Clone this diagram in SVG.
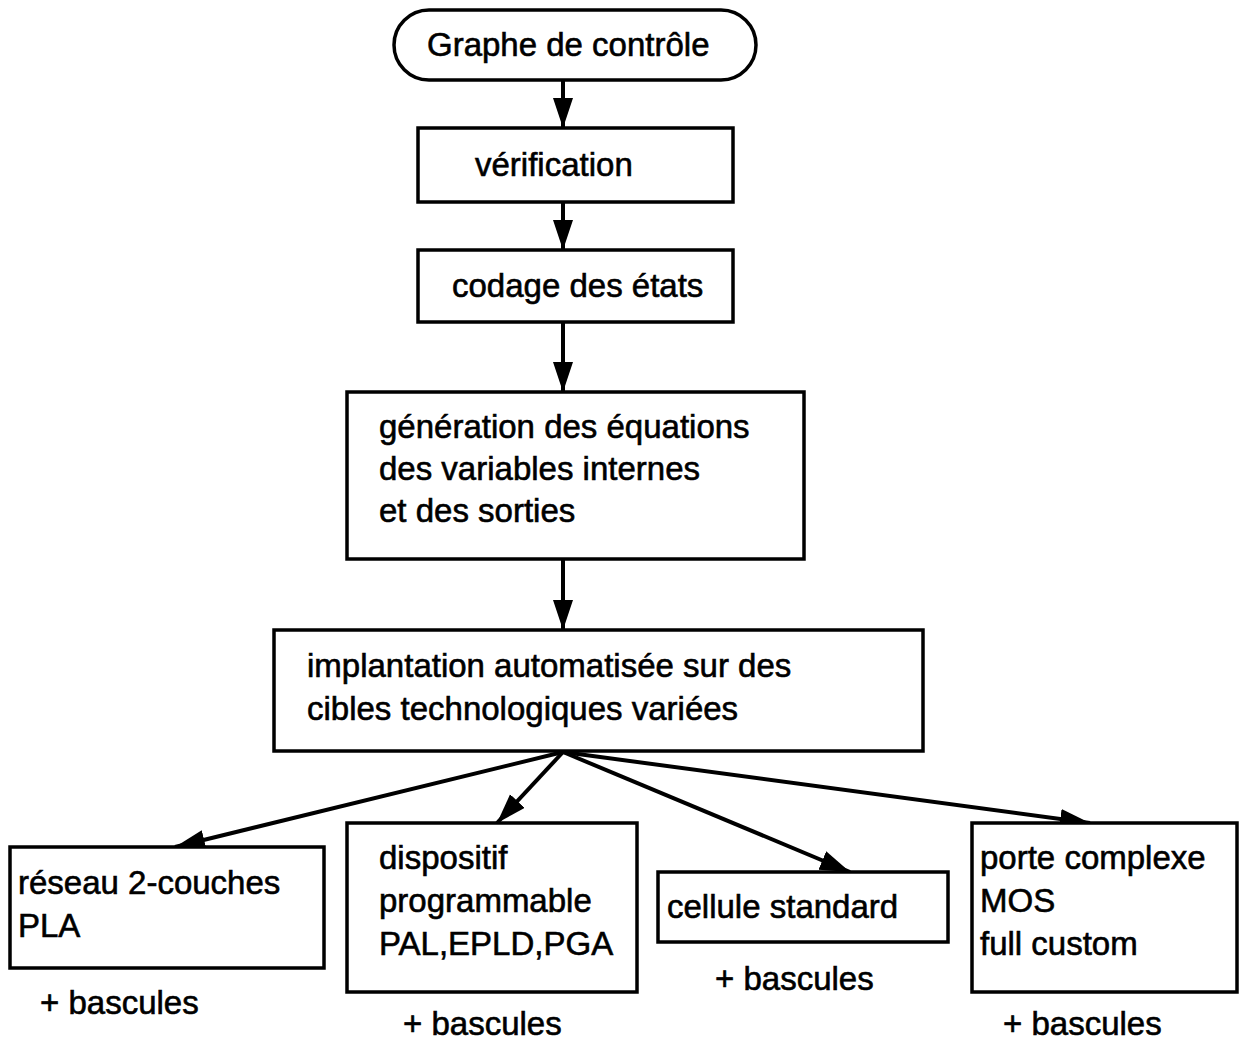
<svg xmlns="http://www.w3.org/2000/svg" width="1245" height="1042" viewBox="0 0 1245 1042">
<style>
.box{fill:#fff;stroke:#000;stroke-width:3.5}
.t{font-family:"Liberation Sans",Arial,Helvetica,sans-serif;font-size:33px;fill:#000;stroke:#000;stroke-width:0.6}
.c{stroke:#000;stroke-width:4;fill:none;marker-end:url(#ah)}
</style>
<defs>
<marker id="ah" markerUnits="userSpaceOnUse" markerWidth="32" markerHeight="22" refX="30" refY="10" orient="auto">
<path d="M0,0 L30,10 L0,20 z" fill="#000"/>
</marker>
</defs>
<rect width="1245" height="1042" fill="#fff"/>
<g id="connectors">
<line class="c" x1="563" y1="80" x2="563" y2="128"/>
<line class="c" x1="563" y1="202" x2="563" y2="250"/>
<line class="c" x1="563" y1="322" x2="563" y2="392"/>
<line class="c" x1="563" y1="559" x2="563" y2="630"/>
<line class="c" x1="563" y1="752" x2="175" y2="847"/>
<line class="c" x1="563" y1="752" x2="497" y2="823"/>
<line class="c" x1="563" y1="752" x2="850" y2="872"/>
<line class="c" x1="563" y1="752" x2="1090" y2="823"/>
</g>
<g id="n-graphe">
<rect class="box" x="394" y="10" width="362" height="70" rx="35" ry="35"/>
<text class="t" x="427" y="56">Graphe de contrôle</text>
</g>
<g id="n-verification">
<rect class="box" x="418" y="128" width="315" height="74"/>
<text class="t" x="475" y="176">vérification</text>
</g>
<g id="n-codage">
<rect class="box" x="418" y="250" width="315" height="72"/>
<text class="t" x="452" y="297">codage des états</text>
</g>
<g id="n-generation">
<rect class="box" x="347" y="392" width="457" height="167"/>
<text class="t" x="379" y="438">génération des équations</text>
<text class="t" x="379" y="480">des variables internes</text>
<text class="t" x="379" y="522">et des sorties</text>
</g>
<g id="n-implantation">
<rect class="box" x="274" y="630" width="649" height="121"/>
<text class="t" x="307" y="677">implantation automatisée sur des</text>
<text class="t" x="307" y="720">cibles technologiques variées</text>
</g>
<g id="n-reseau">
<rect class="box" x="10" y="847" width="314" height="121"/>
<text class="t" x="18" y="894">réseau 2-couches</text>
<text class="t" x="18" y="937">PLA</text>
<text class="t" x="40" y="1014">+ bascules</text>
</g>
<g id="n-dispositif">
<rect class="box" x="347" y="823" width="290" height="169"/>
<text class="t" x="379" y="869">dispositif</text>
<text class="t" x="379" y="912">programmable</text>
<text class="t" x="379" y="955">PAL,EPLD,PGA</text>
<text class="t" x="403" y="1035">+ bascules</text>
</g>
<g id="n-cellule">
<rect class="box" x="658" y="872" width="290" height="70"/>
<text class="t" x="667" y="918">cellule standard</text>
<text class="t" x="715" y="990">+ bascules</text>
</g>
<g id="n-porte">
<rect class="box" x="972" y="823" width="265" height="169"/>
<text class="t" x="980" y="869">porte complexe</text>
<text class="t" x="980" y="912">MOS</text>
<text class="t" x="980" y="955">full custom</text>
<text class="t" x="1003" y="1035">+ bascules</text>
</g>
</svg>
